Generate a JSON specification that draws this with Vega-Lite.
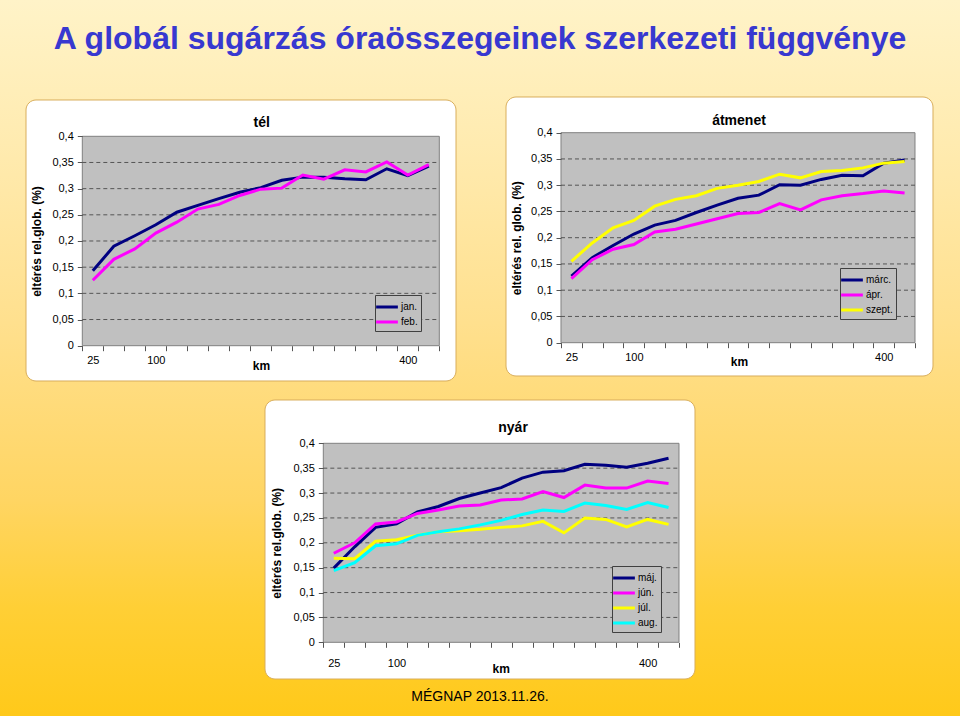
{
  "$schema": "https://vega.github.io/schema/vega-lite/v6.json",
  "width": 960,
  "height": 716,
  "padding": 0,
  "autosize": {"type": "none"},
  "background": "#FFE9A0",
  "title": {
    "text": "A globál sugárzás óraösszegeinek szerkezeti függvénye",
    "orient": "top",
    "anchor": "middle",
    "frame": "group",
    "offset": -56,
    "font": "Liberation Sans",
    "fontSize": 32,
    "fontWeight": "bold",
    "color": "#3838D0"
  },
  "config": {
    "font": "Liberation Sans",
    "view": {"stroke": null},
    "axis": {
      "domain": false,
      "grid": false,
      "labelFont": "Liberation Sans",
      "titleFont": "Liberation Sans",
      "labelFontSize": 11,
      "titleFontSize": 12,
      "titleFontWeight": "bold",
      "labelColor": "#000000",
      "titleColor": "#000000",
      "tickColor": "#555555",
      "tickSize": 5,
      "labelOverlap": false,
      "labelBound": false,
      "labelFlush": false
    },
    "legend": {
      "labelFont": "Liberation Sans",
      "labelFontSize": 10,
      "labelColor": "#000000",
      "symbolType": "M-1.5,0H1.5",
      "symbolSize": 210,
      "symbolStrokeWidth": 3,
      "labelOffset": 5,
      "padding": 3,
      "rowPadding": 0,
      "strokeColor": "#404040",
      "fillColor": "#C0C0C0",
      "zindex": 2
    }
  },
  "datasets": {
    "grid": [{"g": 0.05}, {"g": 0.1}, {"g": 0.15}, {"g": 0.2}, {"g": 0.25}, {"g": 0.3}, {"g": 0.35}],
    "tel": [
      {"km": 25, "m": "jan.", "v": 0.143}, {"km": 50, "m": "jan.", "v": 0.190}, {"km": 75, "m": "jan.", "v": 0.210}, {"km": 100, "m": "jan.", "v": 0.231}, {"km": 125, "m": "jan.", "v": 0.255}, {"km": 150, "m": "jan.", "v": 0.268}, {"km": 175, "m": "jan.", "v": 0.281}, {"km": 200, "m": "jan.", "v": 0.293}, {"km": 225, "m": "jan.", "v": 0.302}, {"km": 250, "m": "jan.", "v": 0.316}, {"km": 275, "m": "jan.", "v": 0.322}, {"km": 300, "m": "jan.", "v": 0.322}, {"km": 325, "m": "jan.", "v": 0.319}, {"km": 350, "m": "jan.", "v": 0.317}, {"km": 375, "m": "jan.", "v": 0.338}, {"km": 400, "m": "jan.", "v": 0.325}, {"km": 425, "m": "jan.", "v": 0.343},
      {"km": 25, "m": "feb.", "v": 0.125}, {"km": 50, "m": "feb.", "v": 0.165}, {"km": 75, "m": "feb.", "v": 0.185}, {"km": 100, "m": "feb.", "v": 0.215}, {"km": 125, "m": "feb.", "v": 0.236}, {"km": 150, "m": "feb.", "v": 0.261}, {"km": 175, "m": "feb.", "v": 0.270}, {"km": 200, "m": "feb.", "v": 0.287}, {"km": 225, "m": "feb.", "v": 0.299}, {"km": 250, "m": "feb.", "v": 0.301}, {"km": 275, "m": "feb.", "v": 0.326}, {"km": 300, "m": "feb.", "v": 0.318}, {"km": 325, "m": "feb.", "v": 0.336}, {"km": 350, "m": "feb.", "v": 0.332}, {"km": 375, "m": "feb.", "v": 0.351}, {"km": 400, "m": "feb.", "v": 0.326}, {"km": 425, "m": "feb.", "v": 0.346}
    ],
    "atmenet": [
      {"km": 25, "m": "márc.", "v": 0.127}, {"km": 50, "m": "márc.", "v": 0.162}, {"km": 75, "m": "márc.", "v": 0.185}, {"km": 100, "m": "márc.", "v": 0.207}, {"km": 125, "m": "márc.", "v": 0.224}, {"km": 150, "m": "márc.", "v": 0.233}, {"km": 175, "m": "márc.", "v": 0.248}, {"km": 200, "m": "márc.", "v": 0.262}, {"km": 225, "m": "márc.", "v": 0.275}, {"km": 250, "m": "márc.", "v": 0.281}, {"km": 275, "m": "márc.", "v": 0.301}, {"km": 300, "m": "márc.", "v": 0.300}, {"km": 325, "m": "márc.", "v": 0.311}, {"km": 350, "m": "márc.", "v": 0.319}, {"km": 375, "m": "márc.", "v": 0.318}, {"km": 400, "m": "márc.", "v": 0.342}, {"km": 425, "m": "márc.", "v": 0.348},
      {"km": 25, "m": "ápr.", "v": 0.122}, {"km": 50, "m": "ápr.", "v": 0.158}, {"km": 75, "m": "ápr.", "v": 0.178}, {"km": 100, "m": "ápr.", "v": 0.187}, {"km": 125, "m": "ápr.", "v": 0.211}, {"km": 150, "m": "ápr.", "v": 0.216}, {"km": 175, "m": "ápr.", "v": 0.226}, {"km": 200, "m": "ápr.", "v": 0.236}, {"km": 225, "m": "ápr.", "v": 0.246}, {"km": 250, "m": "ápr.", "v": 0.248}, {"km": 275, "m": "ápr.", "v": 0.265}, {"km": 300, "m": "ápr.", "v": 0.253}, {"km": 325, "m": "ápr.", "v": 0.272}, {"km": 350, "m": "ápr.", "v": 0.280}, {"km": 375, "m": "ápr.", "v": 0.284}, {"km": 400, "m": "ápr.", "v": 0.289}, {"km": 425, "m": "ápr.", "v": 0.285},
      {"km": 25, "m": "szept.", "v": 0.155}, {"km": 50, "m": "szept.", "v": 0.190}, {"km": 75, "m": "szept.", "v": 0.219}, {"km": 100, "m": "szept.", "v": 0.233}, {"km": 125, "m": "szept.", "v": 0.260}, {"km": 150, "m": "szept.", "v": 0.273}, {"km": 175, "m": "szept.", "v": 0.280}, {"km": 200, "m": "szept.", "v": 0.294}, {"km": 225, "m": "szept.", "v": 0.300}, {"km": 250, "m": "szept.", "v": 0.307}, {"km": 275, "m": "szept.", "v": 0.321}, {"km": 300, "m": "szept.", "v": 0.314}, {"km": 325, "m": "szept.", "v": 0.326}, {"km": 350, "m": "szept.", "v": 0.328}, {"km": 375, "m": "szept.", "v": 0.333}, {"km": 400, "m": "szept.", "v": 0.342}, {"km": 425, "m": "szept.", "v": 0.345}
    ],
    "nyar": [
      {"km": 25, "m": "máj.", "v": 0.149}, {"km": 50, "m": "máj.", "v": 0.192}, {"km": 75, "m": "máj.", "v": 0.231}, {"km": 100, "m": "máj.", "v": 0.238}, {"km": 125, "m": "máj.", "v": 0.262}, {"km": 150, "m": "máj.", "v": 0.273}, {"km": 175, "m": "máj.", "v": 0.289}, {"km": 200, "m": "máj.", "v": 0.300}, {"km": 225, "m": "máj.", "v": 0.311}, {"km": 250, "m": "máj.", "v": 0.330}, {"km": 275, "m": "máj.", "v": 0.342}, {"km": 300, "m": "máj.", "v": 0.345}, {"km": 325, "m": "máj.", "v": 0.358}, {"km": 350, "m": "máj.", "v": 0.356}, {"km": 375, "m": "máj.", "v": 0.352}, {"km": 400, "m": "máj.", "v": 0.360}, {"km": 425, "m": "máj.", "v": 0.370},
      {"km": 25, "m": "jún.", "v": 0.179}, {"km": 50, "m": "jún.", "v": 0.200}, {"km": 75, "m": "jún.", "v": 0.238}, {"km": 100, "m": "jún.", "v": 0.242}, {"km": 125, "m": "jún.", "v": 0.259}, {"km": 150, "m": "jún.", "v": 0.266}, {"km": 175, "m": "jún.", "v": 0.274}, {"km": 200, "m": "jún.", "v": 0.276}, {"km": 225, "m": "jún.", "v": 0.286}, {"km": 250, "m": "jún.", "v": 0.288}, {"km": 275, "m": "jún.", "v": 0.303}, {"km": 300, "m": "jún.", "v": 0.291}, {"km": 325, "m": "jún.", "v": 0.316}, {"km": 350, "m": "jún.", "v": 0.310}, {"km": 375, "m": "jún.", "v": 0.310}, {"km": 400, "m": "jún.", "v": 0.324}, {"km": 425, "m": "jún.", "v": 0.319},
      {"km": 25, "m": "júl.", "v": 0.169}, {"km": 50, "m": "júl.", "v": 0.168}, {"km": 75, "m": "júl.", "v": 0.203}, {"km": 100, "m": "júl.", "v": 0.206}, {"km": 125, "m": "júl.", "v": 0.215}, {"km": 150, "m": "júl.", "v": 0.222}, {"km": 175, "m": "júl.", "v": 0.224}, {"km": 200, "m": "júl.", "v": 0.227}, {"km": 225, "m": "júl.", "v": 0.231}, {"km": 250, "m": "júl.", "v": 0.234}, {"km": 275, "m": "júl.", "v": 0.243}, {"km": 300, "m": "júl.", "v": 0.220}, {"km": 325, "m": "júl.", "v": 0.250}, {"km": 350, "m": "júl.", "v": 0.247}, {"km": 375, "m": "júl.", "v": 0.232}, {"km": 400, "m": "júl.", "v": 0.247}, {"km": 425, "m": "júl.", "v": 0.237},
      {"km": 25, "m": "aug.", "v": 0.144}, {"km": 50, "m": "aug.", "v": 0.160}, {"km": 75, "m": "aug.", "v": 0.194}, {"km": 100, "m": "aug.", "v": 0.198}, {"km": 125, "m": "aug.", "v": 0.215}, {"km": 150, "m": "aug.", "v": 0.222}, {"km": 175, "m": "aug.", "v": 0.228}, {"km": 200, "m": "aug.", "v": 0.236}, {"km": 225, "m": "aug.", "v": 0.245}, {"km": 250, "m": "aug.", "v": 0.257}, {"km": 275, "m": "aug.", "v": 0.266}, {"km": 300, "m": "aug.", "v": 0.263}, {"km": 325, "m": "aug.", "v": 0.280}, {"km": 350, "m": "aug.", "v": 0.275}, {"km": 375, "m": "aug.", "v": 0.267}, {"km": 400, "m": "aug.", "v": 0.281}, {"km": 425, "m": "aug.", "v": 0.271}
    ]
  },
  "resolve": {
    "scale": {"x": "independent", "y": "independent", "color": "independent"},
    "axis": {"x": "independent", "y": "independent"},
    "legend": {"color": "independent"}
  },
  "layer": [
    {
      "data": {"values": [{}]},
      "mark": {
        "type": "rect",
        "fill": {
          "gradient": "linear", "x1": 0, "y1": 0, "x2": 0, "y2": 1,
          "stops": [
            {"offset": 0, "color": "#FFF3C8"},
            {"offset": 0.2, "color": "#FFEBB0"},
            {"offset": 0.45, "color": "#FFE08E"},
            {"offset": 0.7, "color": "#FFD562"},
            {"offset": 0.85, "color": "#FFCF35"},
            {"offset": 1, "color": "#FFC91A"}
          ]
        }
      },
      "encoding": {}
    },
    {
      "layer": [
        {
          "data": {"values": [{}]},
          "mark": {"type": "rect", "fill": "#FFFFFF", "stroke": "#D9AE5C", "strokeWidth": 1, "cornerRadius": 10},
          "encoding": {
            "x": {"datum": -54.52, "type": "quantitative", "scale": {"domain": [-85.48, 1057.38], "nice": false, "zero": false},
              "axis": {
                "orient": "bottom", "offset": -370.3, "zindex": 3,
                "values": [12.5, 25, 37.5, 62.5, 87.5, 100, 112.5, 137.5, 162.5, 187.5, 212.5, 237.5, 262.5, 287.5, 312.5, 337.5, 362.5, 387.5, 400, 412.5, 437.5],
                "labelExpr": "(datum.value == 25 || datum.value == 100 || datum.value == 400) ? datum.label : ''",
                "tickOpacity": {"condition": {"test": "datum.value == 25 || datum.value == 100 || datum.value == 400", "value": 0}, "value": 1},
                "labelPadding": 4,
                "title": "km", "titleX": 261, "titleY": 20, "titleBaseline": "middle", "titleAlign": "center"
              }},
            "x2": {"datum": 457.38},
            "y": {"datum": -0.06743, "type": "quantitative", "scale": {"domain": [-0.70736, 0.66036], "nice": false, "zero": false},
              "axis": {
                "orient": "left", "offset": -82.3, "zindex": 3,
                "values": [0, 0.05, 0.1, 0.15, 0.2, 0.25, 0.3, 0.35, 0.4],
                "labelExpr": "replace(format(datum.value, '~g'), '.', ',')",
                "labelPadding": 4,
                "title": "eltérés rel.glob. (%)", "titleX": -45.6, "titleY": 241, "titleAngle": 270, "titleBaseline": "middle", "titleAlign": "center"
              }},
            "y2": {"datum": 0.46934}
          }
        },
        {
          "data": {"values": [{}]},
          "mark": {"type": "rect", "fill": "#C0C0C0", "stroke": "#808080", "strokeWidth": 1},
          "encoding": {
            "x": {"datum": 12.5, "type": "quantitative"}, "x2": {"datum": 437.5},
            "y": {"datum": 0, "type": "quantitative"}, "y2": {"datum": 0.4}
          }
        },
        {
          "data": {"name": "grid"},
          "mark": {"type": "rule", "stroke": "#555555", "strokeDash": [4, 3], "strokeWidth": 1},
          "encoding": {
            "y": {"field": "g", "type": "quantitative"},
            "x": {"datum": 12.5, "type": "quantitative"}, "x2": {"datum": 437.5}
          }
        },
        {
          "data": {"name": "tel"},
          "mark": {"type": "line", "strokeWidth": 3},
          "encoding": {
            "x": {"field": "km", "type": "quantitative"},
            "y": {"field": "v", "type": "quantitative"},
            "color": {"field": "m", "type": "nominal", "scale": {"domain": ["jan.", "feb."], "range": ["#000080", "#FF00FF"]},
              "legend": {"orient": "none", "legendX": 375, "legendY": 295, "title": null}}
          }
        },
        {
          "data": {"values": [{}]},
          "mark": {"type": "text", "text": "tél", "font": "Liberation Sans", "fontSize": 14, "fontWeight": "bold", "align": "center", "baseline": "middle", "color": "#000000"},
          "encoding": {
            "x": {"datum": 226, "type": "quantitative"},
            "y": {"datum": 0.4254, "type": "quantitative"}
          }
        }
      ]
    },
    {
      "layer": [
        {
          "data": {"values": [{}]},
          "mark": {"type": "rect", "fill": "#FFFFFF", "stroke": "#D9AE5C", "strokeWidth": 1, "cornerRadius": 10},
          "encoding": {
            "x": {"datum": -53.53, "type": "quantitative", "scale": {"domain": [-661.02, 491.53], "nice": false, "zero": false},
              "axis": {
                "orient": "bottom", "offset": -373.3, "zindex": 3,
                "values": [12.5, 25, 37.5, 62.5, 87.5, 100, 112.5, 137.5, 162.5, 187.5, 212.5, 237.5, 262.5, 287.5, 312.5, 337.5, 362.5, 387.5, 400, 412.5, 437.5],
                "labelExpr": "(datum.value == 25 || datum.value == 100 || datum.value == 400) ? datum.label : ''",
                "tickOpacity": {"condition": {"test": "datum.value == 25 || datum.value == 100 || datum.value == 400", "value": 0}, "value": 1},
                "labelPadding": 4,
                "title": "km", "titleX": 739, "titleY": 19, "titleBaseline": "middle", "titleAlign": "center"
              }},
            "x2": {"datum": 459.11},
            "y": {"datum": -0.06343, "type": "quantitative", "scale": {"domain": [-0.71105, 0.65276], "nice": false, "zero": false},
              "axis": {
                "orient": "left", "offset": -561, "zindex": 3,
                "values": [0, 0.05, 0.1, 0.15, 0.2, 0.25, 0.3, 0.35, 0.4],
                "labelExpr": "replace(format(datum.value, '~g'), '.', ',')",
                "labelPadding": 4,
                "title": "eltérés rel. glob. (%)", "titleX": -44.3, "titleY": 237.7, "titleAngle": 270, "titleBaseline": "middle", "titleAlign": "center"
              }},
            "y2": {"datum": 0.468}
          }
        },
        {
          "data": {"values": [{}]},
          "mark": {"type": "rect", "fill": "#C0C0C0", "stroke": "#808080", "strokeWidth": 1},
          "encoding": {
            "x": {"datum": 12.5, "type": "quantitative"}, "x2": {"datum": 437.5},
            "y": {"datum": 0, "type": "quantitative"}, "y2": {"datum": 0.4}
          }
        },
        {
          "data": {"name": "grid"},
          "mark": {"type": "rule", "stroke": "#555555", "strokeDash": [4, 3], "strokeWidth": 1},
          "encoding": {
            "y": {"field": "g", "type": "quantitative"},
            "x": {"datum": 12.5, "type": "quantitative"}, "x2": {"datum": 437.5}
          }
        },
        {
          "data": {"name": "atmenet"},
          "mark": {"type": "line", "strokeWidth": 3},
          "encoding": {
            "x": {"field": "km", "type": "quantitative"},
            "y": {"field": "v", "type": "quantitative"},
            "color": {"field": "m", "type": "nominal", "scale": {"domain": ["márc.", "ápr.", "szept."], "range": ["#000080", "#FF00FF", "#FFFF00"]},
              "legend": {"orient": "none", "legendX": 840, "legendY": 268, "title": null}}
          }
        },
        {
          "data": {"values": [{}]},
          "mark": {"type": "text", "text": "átmenet", "font": "Liberation Sans", "fontSize": 14, "fontWeight": "bold", "align": "center", "baseline": "middle", "color": "#000000"},
          "encoding": {
            "x": {"datum": 226.2, "type": "quantitative"},
            "y": {"datum": 0.4223, "type": "quantitative"}
          }
        }
      ]
    },
    {
      "layer": [
        {
          "data": {"values": [{}]},
          "mark": {"type": "rect", "fill": "#FFFFFF", "stroke": "#D9AE5C", "strokeWidth": 1, "cornerRadius": 10},
          "encoding": {
            "x": {"datum": -57.16, "type": "quantitative", "scale": {"domain": [-373.79, 773.25], "nice": false, "zero": false},
              "axis": {
                "orient": "bottom", "offset": -73.7, "zindex": 3,
                "values": [12.5, 25, 37.5, 62.5, 87.5, 100, 112.5, 137.5, 162.5, 187.5, 212.5, 237.5, 262.5, 287.5, 312.5, 337.5, 362.5, 387.5, 400, 412.5, 437.5],
                "labelExpr": "(datum.value == 25 || datum.value == 100 || datum.value == 400) ? datum.label : ''",
                "tickOpacity": {"condition": {"test": "datum.value == 25 || datum.value == 100 || datum.value == 400", "value": 0}, "value": 1},
                "labelPadding": 10,
                "title": "km", "titleX": 500.7, "titleY": 26, "titleBaseline": "middle", "titleAlign": "center"
              }},
            "x2": {"datum": 456.61},
            "y": {"datum": -0.07377, "type": "quantitative", "scale": {"domain": [-0.14814, 1.29106], "nice": false, "zero": false},
              "axis": {
                "orient": "left", "offset": -323.3, "zindex": 3,
                "values": [0, 0.05, 0.1, 0.15, 0.2, 0.25, 0.3, 0.35, 0.4],
                "labelExpr": "replace(format(datum.value, '~g'), '.', ',')",
                "labelPadding": 4,
                "title": "eltérés rel.glob. (%)", "titleX": -46.6, "titleY": 542.8, "titleAngle": 270, "titleBaseline": "middle", "titleAlign": "center"
              }},
            "y2": {"datum": 0.48704}
          }
        },
        {
          "data": {"values": [{}]},
          "mark": {"type": "rect", "fill": "#C0C0C0", "stroke": "#808080", "strokeWidth": 1},
          "encoding": {
            "x": {"datum": 12.5, "type": "quantitative"}, "x2": {"datum": 437.5},
            "y": {"datum": 0, "type": "quantitative"}, "y2": {"datum": 0.4}
          }
        },
        {
          "data": {"name": "grid"},
          "mark": {"type": "rule", "stroke": "#555555", "strokeDash": [4, 3], "strokeWidth": 1},
          "encoding": {
            "y": {"field": "g", "type": "quantitative"},
            "x": {"datum": 12.5, "type": "quantitative"}, "x2": {"datum": 437.5}
          }
        },
        {
          "data": {"name": "nyar"},
          "mark": {"type": "line", "strokeWidth": 3},
          "encoding": {
            "x": {"field": "km", "type": "quantitative"},
            "y": {"field": "v", "type": "quantitative"},
            "color": {"field": "m", "type": "nominal", "scale": {"domain": ["máj.", "jún.", "júl.", "aug."], "range": ["#000080", "#FF00FF", "#FFFF00", "#00FFFF"]},
              "legend": {"orient": "none", "legendX": 612, "legendY": 566, "title": null}}
          }
        },
        {
          "data": {"values": [{}]},
          "mark": {"type": "text", "text": "nyár", "font": "Liberation Sans", "fontSize": 14, "fontWeight": "bold", "align": "center", "baseline": "middle", "color": "#000000"},
          "encoding": {
            "x": {"datum": 239.2, "type": "quantitative"},
            "y": {"datum": 0.4308, "type": "quantitative"}
          }
        },
        {
          "data": {"values": [{}]},
          "mark": {"type": "text", "text": "MÉGNAP 2013.11.26.", "font": "Liberation Sans", "fontSize": 14, "align": "center", "baseline": "middle", "color": "#000000"},
          "encoding": {
            "x": {"datum": 199.7, "type": "quantitative"},
            "y": {"datum": -0.10995, "type": "quantitative"}
          }
        }
      ]
    }
  ]
}
